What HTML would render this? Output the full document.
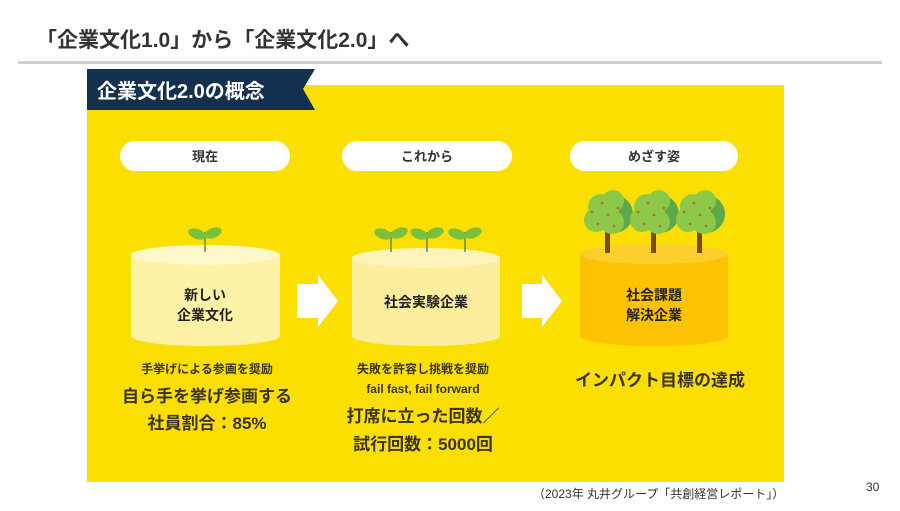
<!DOCTYPE html>
<html><head><meta charset="utf-8"><style>
html,body{margin:0;padding:0;background:#fff;}
body{width:900px;height:506px;overflow:hidden;font-family:"Liberation Sans","Noto Sans CJK JP",sans-serif;}
text{font-family:"Liberation Sans","Noto Sans CJK JP",sans-serif;}
</style></head><body>
<svg width="900" height="506" viewBox="0 0 900 506" xmlns="http://www.w3.org/2000/svg">
<text x="36" y="47" font-size="21" font-weight="bold" fill="#333">「企業文化1.0」から「企業文化2.0」へ</text>
<rect x="18" y="61" width="864" height="3" fill="#d0d0d0"/>
<rect x="87" y="85" width="697" height="397" fill="#fbdf00"/>
<polygon points="87,69 315,69 303,89 315,110 87,110" fill="#14304f"/>
<text x="97" y="98" font-size="20" font-weight="bold" fill="#fff">企業文化2.0の概念</text>
<g font-size="13" font-weight="bold" fill="#333" text-anchor="middle">
<rect x="120" y="141" width="170" height="30" rx="15" fill="#fff"/><text x="205" y="161">現在</text>
<rect x="342" y="141" width="170" height="30" rx="15" fill="#fff"/><text x="427" y="161" fill="#333">これから</text>
<rect x="570" y="141" width="168" height="30" rx="15" fill="#fff"/><text x="654" y="161" fill="#333">めざす姿</text>
</g>
<path d="M131,255 L131,336 A74.5,10 0 0 0 280,336 L280,255 Z" fill="#fdf2a6"/>
<ellipse cx="205.5" cy="255" rx="74.5" ry="10" fill="#fef7c8"/>
<path d="M352,258 L352,336 A74,10 0 0 0 500,336 L500,258 Z" fill="#fcee9c"/>
<ellipse cx="426" cy="258" rx="74" ry="10" fill="#fdf4bb"/>
<path d="M580,254 L580,336 A74,10 0 0 0 728,336 L728,254 Z" fill="#fdc201"/>
<ellipse cx="654" cy="254" rx="74" ry="10" fill="#fdcf2c"/>
<g stroke="#5a8f30" stroke-width="1.5">
<line x1="205" y1="232" x2="205" y2="252"/><line x1="391" y1="232" x2="391" y2="252"/><line x1="427" y1="232" x2="427" y2="252"/><line x1="465" y1="232" x2="465" y2="252"/>
</g>
<g fill="#7cbf3a">
<ellipse cx="197" cy="234" rx="9" ry="5" transform="rotate(20 197 234)"/><ellipse cx="213" cy="233" rx="9" ry="5" transform="rotate(-20 213 233)"/>
<ellipse cx="383" cy="234" rx="9" ry="5" transform="rotate(20 383 234)"/><ellipse cx="399" cy="233" rx="9" ry="5" transform="rotate(-20 399 233)"/>
<ellipse cx="419" cy="234" rx="9" ry="5" transform="rotate(20 419 234)"/><ellipse cx="435" cy="233" rx="9" ry="5" transform="rotate(-20 435 233)"/>
<ellipse cx="457" cy="234" rx="9" ry="5" transform="rotate(20 457 234)"/><ellipse cx="473" cy="233" rx="9" ry="5" transform="rotate(-20 473 233)"/>
</g>
<g>
<rect x="605" y="228" width="5" height="25" fill="#7a4a1e"/><rect x="651" y="228" width="5" height="25" fill="#7a4a1e"/><rect x="697" y="228" width="5" height="25" fill="#7a4a1e"/>
<g fill="#5fa84a"><circle cx="614" cy="214" r="19"/><circle cx="660" cy="214" r="19"/><circle cx="706" cy="214" r="19"/></g>
<g fill="#8cc94a">
<circle cx="596" cy="220" r="12"/><circle cx="601" cy="207" r="13"/><circle cx="613" cy="201" r="11"/><circle cx="612" cy="222" r="12"/><circle cx="606" cy="214" r="13"/>
<circle cx="642" cy="220" r="12"/><circle cx="647" cy="207" r="13"/><circle cx="659" cy="201" r="11"/><circle cx="658" cy="222" r="12"/><circle cx="652" cy="214" r="13"/>
<circle cx="688" cy="220" r="12"/><circle cx="693" cy="207" r="13"/><circle cx="705" cy="201" r="11"/><circle cx="704" cy="222" r="12"/><circle cx="698" cy="214" r="13"/>
</g>
<g fill="#d2622a"><circle cx="592" cy="212" r="1.4"/><circle cx="602" cy="203" r="1.4"/><circle cx="608" cy="215" r="1.4"/><circle cx="618" cy="208" r="1.4"/><circle cx="598" cy="224" r="1.4"/><circle cx="614" cy="226" r="1.4"/>
<circle cx="638" cy="212" r="1.4"/><circle cx="648" cy="203" r="1.4"/><circle cx="654" cy="215" r="1.4"/><circle cx="664" cy="208" r="1.4"/><circle cx="644" cy="224" r="1.4"/><circle cx="660" cy="226" r="1.4"/>
<circle cx="684" cy="212" r="1.4"/><circle cx="694" cy="203" r="1.4"/><circle cx="700" cy="215" r="1.4"/><circle cx="710" cy="208" r="1.4"/><circle cx="690" cy="224" r="1.4"/><circle cx="706" cy="226" r="1.4"/></g>
</g>
<polygon points="297,284 318,284 318,275 338,301 318,327 318,318 297,318" fill="#fff"/>
<polygon points="522,284 542,284 542,275 562,301 542,327 542,318 522,318" fill="#fff"/>
<g font-weight="bold" fill="#222" text-anchor="middle">
<text x="205" y="300" font-size="14">新しい</text><text x="205" y="320" font-size="14">企業文化</text>
<text x="426" y="307" font-size="14">社会実験企業</text>
<text x="654" y="300" font-size="14">社会課題</text><text x="654" y="320" font-size="14">解決企業</text>
<g fill="#3a3320">
<text x="207" y="373" font-size="12">手挙げによる参画を奨励</text>
<text x="207" y="402" font-size="17">自ら手を挙げ参画する</text>
<text x="207" y="429" font-size="17">社員割合：85%</text>
<text x="423" y="373" font-size="12">失敗を許容し挑戦を奨励</text>
<text x="423" y="393" font-size="12">fail fast, fail forward</text>
<text x="423" y="422" font-size="17">打席に立った回数／</text>
<text x="423" y="450" font-size="17">試行回数：5000回</text>
<text x="660" y="386" font-size="17">インパクト目標の達成</text>
</g></g>
<text x="533" y="498" font-size="12" fill="#333">（2023年 丸井グループ「共創経営レポート」）</text>
<text x="866" y="491" font-size="12" fill="#333">30</text>
</svg>
</body></html>
